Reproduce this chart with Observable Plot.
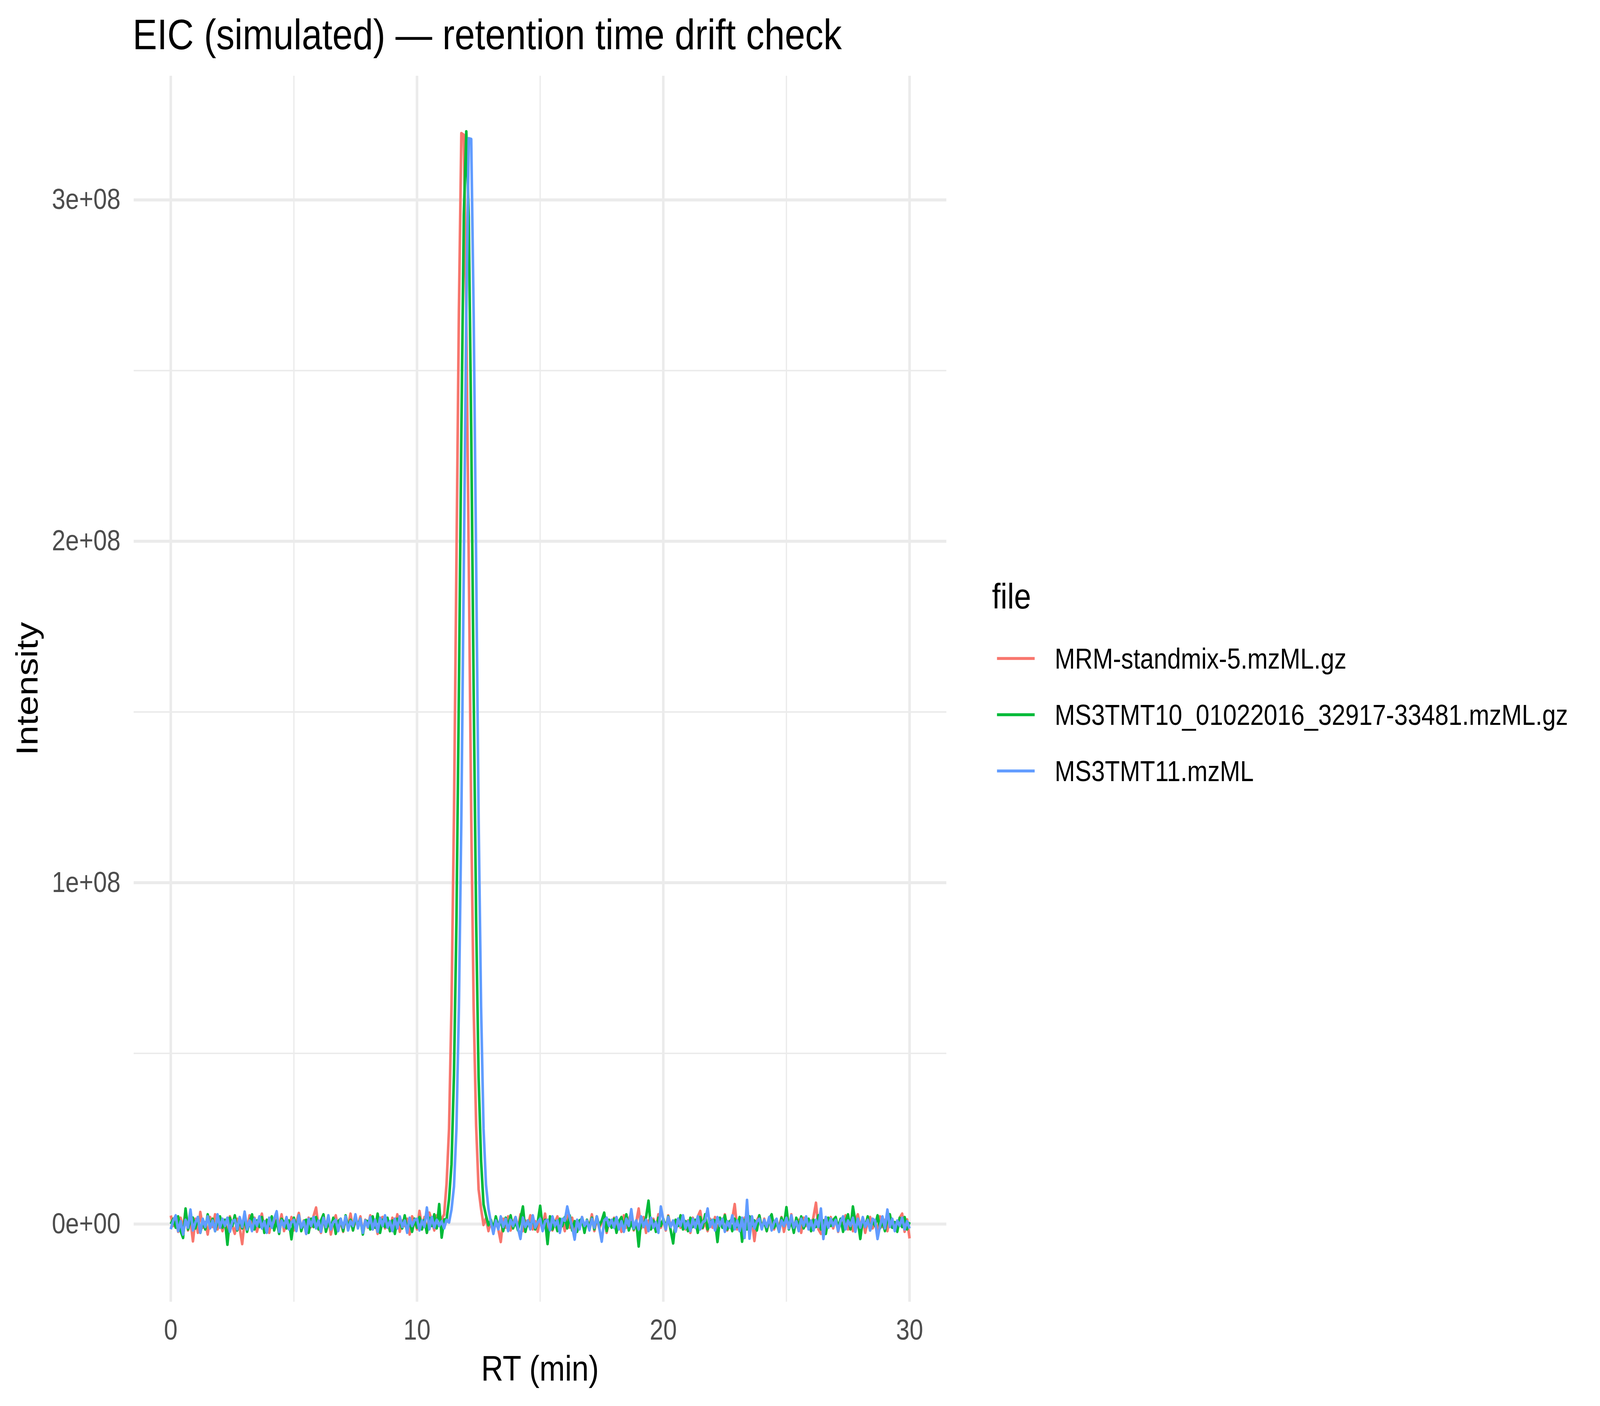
<!DOCTYPE html>
<html>
<head>
<meta charset="utf-8">
<script src="https://cdn.jsdelivr.net/npm/d3@7"></script>
<script src="https://cdn.jsdelivr.net/npm/@observablehq/plot@0.6"></script>
<style>
  html, body { margin: 0; padding: 0; background: #ffffff; overflow: hidden; }
  #chart { position: fixed; left: 0; top: 0; width: 100%; height: 100%; }
  #chart svg { display: block; position: absolute; left: 0; top: 0; }
</style>
</head>
<body>
<div id="chart"></div>
<script>
// ---------------- DATA ----------------
const chartTitle = "EIC (simulated) \u2014 retention time drift check";
const xLabel = "RT (min)";
const yLabel = "Intensity";
const legendTitle = "file";
const files = ["MRM-standmix-5.mzML.gz", "MS3TMT10_01022016_32917-33481.mzML.gz", "MS3TMT11.mzML"];
const colors = ["#F8766D", "#00BA38", "#619CFF"];

const xTicks = [0, 10, 20, 30];
const xTickLabels = ["0", "10", "20", "30"];
const xMinor = [5, 15, 25];
const yTicks = [0, 1e8, 2e8, 3e8];
const yTickLabels = ["0e+00", "1e+08", "2e+08", "3e+08"];
const yMinor = [0.5e8, 1.5e8, 2.5e8];

// retention time grid: rt = rtStart + index * rtStep (minutes)
const rtStart = 0;
const rtStep = 0.1;
// intensities in units of 1e5 counts, one value per rt step (0.0 ... 30.0 min)
const unit = 1e5;

const mrmStandmix5 = [
  25, -5, 12, -22, 18, -12, 40, -18, 10, -50,
  15, -25, 35, -10, 5, -30, 20, -8, 28, -15,
  8, -20, 12, -35, 22, -5, -28, 15, -12, -58,
  10, -15, 25, -8, 18, -22, 5, 30, -18, 12,
  -25, 15, -10, 22, -5, 28, -20, 8, -12, 20,
  -18, 5, 32, -15, 10, -28, 18, -8, 24, 48,
  -10, -25, 15, -5, 20, -30, 8, 25, -15, 5,
  -22, 18, -8, 30, -18, 10, -5, 22, -25, 12,
  -10, 25, -15, 8, -28, 15, 20, -12, 5, -20,
  18, -8, 28, -22, 10, -5, 15, -30, 22, 8,
  -15, 38, -10, 20, -25, 33, 10, -18, 25, 22,
  15, 28, 119, 279, 642, 1200, 1940, 2675, 3195, 3190,
  2670, 1945, 1195, 630, 288, 102, 45, -2, 17, -20,
  12, -25, 8, -15, -52, 15, -10, 22, -18, 5,
  20, -12, 28, -20, 10, -5, 25, -15, 8, -22,
  15, -8, 30, -25, 12, -18, 5, 22, -12, 10,
  -20, 25, -10, 18, -28, 8, -5, 20, -15, 12,
  -8, 28, -20, 15, -12, 5, 22, -25, 10, -5,
  18, -15, 8, -22, 25, -10, 15, 30, -18, 5,
  45, -12, 20, -25, 10, -8, 15, -20, 28, -10,
  12, -18, 25, -5, 8, -22, 15, -10, 20, -15,
  10, -25, 18, -8, 22, 38, -12, 5, -20, 15,
  -10, 20, -22, 12, -5, 28, -18, 8, 15, 58,
  -15, 10, -25, 18, -5, 22, 12, -49, 10, 25,
  -12, 15, -20, 8, 25, -15, 10, -8, 20, -22,
  15, -10, 28, -18, 5, 12, -25, 18, -5, 10,
  -20, 22, 62, -15, -28, 8, 15, -10, 20, -12,
  18, -22, 10, -5, 25, -15, 8, -20, 12, 28,
  -10, 15, -25, 8, 20, -12, 5, -18, 22, -8,
  12, -20, 25, -10, 5, -15, 18, 30, -22, 13,
  -42
];

const ms3tmt10 = [
  0, 15, -10, 22, -20, -40, 45, -15, 10, 18,
  -12, 20, -25, 8, -15, 28, -8, 15, -20, 5,
  22, -10, 12, -60, 18, -5, 25, -18, 10, -12,
  15, -22, 8, 28, -15, 10, -8, 20, -25, 12,
  -5, 22, -18, 10, -28, 15, 5, -12, 10, -44,
  18, -10, 25, -20, 8, 12, -25, 15, -8, 20,
  -15, 10, 28, -22, 5, -12, 18, -28, 8, 15,
  -20, 25, -8, 12, -18, 20, -5, 15, -30, 10,
  8, -15, 22, -10, 30, -25, 12, -8, 18, -20,
  10, -28, 15, 5, -12, 25, -18, 8, -22, 15,
  -10, 20, -15, 12, -25, 18, -5, 28, -12, 58,
  -39, 13, 14, 73, 175, 438, 885, 1560, 2320, 2955,
  3200, 2950, 2328, 1555, 893, 430, 186, 58, 25, -3,
  12, -15, 22, -8, 10, -20, 18, -5, 25, -12,
  8, -18, 15, 51, -22, 10, -8, 20, -15, 5,
  53, -10, 12, -58, 22, -15, 8, -20, 15, -5,
  20, -12, 25, -18, 8, -22, 10, 15, -25, 12,
  -8, 18, -15, 22, -5, 10, 33, -20, 12, -10,
  15, -25, 8, 20, -12, 28, -18, 5, -15, 10,
  -65, 12, -8, 20, 68, -15, 10, -22, 18, -5,
  15, -10, 22, -18, -56, 12, -5, 25, -15, 8,
  -20, 18, -8, 12, -25, 20, -10, 28, -15, 5,
  12, 10, -52, 18, -10, 25, -15, 8, -20, 15,
  -8, 20, -51, 12, -15, 22, -5, 10, -18, 25,
  -12, 8, -20, 15, 28, -10, 5, -22, 18, -5,
  49, -15, 10, -25, 18, -8, 22, -12, 5, 15,
  -20, 12, -8, 25, -15, 10, -28, 18, -5, 12,
  20, -10, 15, -22, 8, 28, -15, 51, 5, 10,
  -43, 15, -8, 22, -18, 10, -5, 25, -12, 8,
  -20, 15, 28, -10, 5, -22, 18, -8, 20, -15,
  6
];

const ms3tmt11 = [
  -15, 10, 25, -20, 8, -30, 12, -10, 42, -18,
  5, 20, -25, 15, -8, 22, -12, 10, -20, 28,
  -10, 15, -5, 18, -22, 8, 12, -15, 20, -8,
  36, -15, 10, -20, 15, -5, 22, -12, 8, -25,
  18, -10, 15, 37, -22, 10, -8, 20, -15, 5,
  12, -20, 25, -10, 8, -28, 15, -5, 20, -12,
  10, -22, 18, -8, 25, -15, 5, 12, -20, 15,
  -10, 22, -18, 8, -5, 28, -12, 15, -25, 10,
  -8, 20, -15, 12, -22, 18, -5, 25, -10, 8,
  -20, 15, -12, 22, -8, 10, -25, 18, -5, 12,
  15, -18, 10, -8, 48, -15, 20, -10, 12, -5,
  8, -12, 12, 5, 43, 110, 280, 635, 1195, 1935,
  2665, 3180, 3178, 2660, 1940, 1190, 636, 280, 115, 45,
  5, -28, 10, -15, 22, -8, 15, -20, 12, -5,
  20, -12, -43, 18, -8, 10, -15, 25, -10, 5,
  15, -20, 8, 12, -18, 22, -5, 10, -25, 15,
  10, 51, 18, -8, -45, 12, -15, 20, -5, 10,
  -18, 15, -10, 22, -12, -51, 10, 18, -5, 12,
  -10, 20, -15, 8, -22, 15, -5, 43, -12, 10,
  -15, 22, -8, 12, -20, 18, -10, 5, -25, 51,
  12, -15, 20, -8, 10, -22, 15, -5, 25, -12,
  8, -20, 15, -10, 22, -15, 5, 10, 45, -8,
  12, -18, 20, -5, 15, -22, 8, -10, 25, -15,
  10, -20, 18, -40, 70, -42, 22, -12, 8, 15,
  -15, 12, -8, 20, -18, 5, 15, -22, 10, -5,
  18, -12, 25, -10, 8, -20, 15, -5, 22, -15,
  10, -18, 12, -8, 45, -43, 20, -10, 15, -5,
  12, -20, 8, 22, -15, 10, -5, 18, -22, 15,
  -10, 20, -8, 12, -18, 15, 10, -43, -5, 22,
  -12, 42, -8, 15, -20, 10, -5, 18, -15, 8,
  -13
];

const seriesValues = [mrmStandmix5, ms3tmt10, ms3tmt11];

// ---------------- BUILD ----------------
const rows = files.flatMap((f, k) =>
  seriesValues[k].map((v, i) => ({ file: f, rt: rtStart + i * rtStep, intensity: v * unit }))
);

const FONT = "'Liberation Sans', Arial, Helvetica, sans-serif";
const W = 4800, H = 3600;
const panel = { left: 401, right: 2839, top: 194, bottom: 3333 };
const grid = "#EBEBEB";
const tickFs = 73.3, titleFs = 91.7, mainFs = 110;

const chart = Plot.plot({
  width: W,
  height: H,
  marginLeft: panel.left,
  marginRight: W - panel.right,
  marginTop: panel.top,
  marginBottom: H - panel.bottom,
  style: { fontFamily: FONT, background: "#ffffff", overflow: "visible" },
  x: { domain: [-1.5, 31.5], label: null },
  y: { domain: [-2.28e7, 3.363e8], label: null },
  color: { domain: files, range: colors },
  marks: [
    Plot.ruleX(xMinor, { stroke: grid, strokeWidth: 3.9 }),
    Plot.ruleY(yMinor, { stroke: grid, strokeWidth: 3.9 }),
    Plot.ruleX(xTicks, { stroke: grid, strokeWidth: 7.7 }),
    Plot.ruleY(yTicks, { stroke: grid, strokeWidth: 7.7 }),
    Plot.line(rows, {
      x: "rt", y: "intensity", z: "file", stroke: "file",
      strokeWidth: 7.8, strokeLinejoin: "round", strokeLinecap: "butt"
    }),
    Plot.axisX(xTicks, {
      tickSize: 0, tickPadding: 44, fontSize: tickFs, color: "#4D4D4D", label: null,
      tickFormat: (d) => xTickLabels[xTicks.indexOf(d)]
    }),
    Plot.axisY(yTicks, {
      tickSize: 0, tickPadding: 40, fontSize: tickFs, color: "#4D4D4D", label: null,
      tickFormat: (d) => yTickLabels[yTicks.indexOf(d)]
    })
  ]
});

// fit the 4800x3600 drawing exactly to whatever viewport the page is shown in
chart.setAttribute("viewBox", `0 0 ${W} ${H}`);
chart.setAttribute("preserveAspectRatio", "none");
chart.style.width = "100%";
chart.style.height = "100%";
chart.style.maxWidth = "none";
document.getElementById("chart").appendChild(chart);

const svg = d3.select(chart);
const txt = svg.append("g").attr("font-family", FONT).attr("fill", "#000000").attr("text-anchor", "start");

txt.append("text").attr("x", 398).attr("y", 126).attr("text-anchor", "start")
  .attr("font-size", mainFs).text(chartTitle);
txt.append("text").attr("x", (panel.left + panel.right) / 2).attr("y", 3535)
  .attr("text-anchor", "middle").attr("font-size", titleFs).text(xLabel);
txt.append("text").attr("transform", `translate(112,${(panel.top + panel.bottom) / 2}) rotate(-90)`)
  .attr("text-anchor", "middle").attr("font-size", titleFs).text(yLabel);

// legend
const lg = svg.append("g").attr("font-family", FONT).attr("text-anchor", "start");
lg.append("text").attr("x", 2976).attr("y", 1558).attr("text-anchor", "start")
  .attr("font-size", titleFs).attr("fill", "#000").text(legendTitle);
const keyY0 = 1686, keyStep = 144;
files.forEach((f, k) => {
  const y = keyY0 + k * keyStep;
  lg.append("line").attr("x1", 2991).attr("x2", 3104).attr("y1", y).attr("y2", y)
    .attr("stroke", colors[k]).attr("stroke-width", 7.5);
  lg.append("text").attr("x", 3164).attr("y", y + 26).attr("text-anchor", "start")
    .attr("font-size", tickFs).attr("fill", "#000").text(f);
});
</script>
</body>
</html>
